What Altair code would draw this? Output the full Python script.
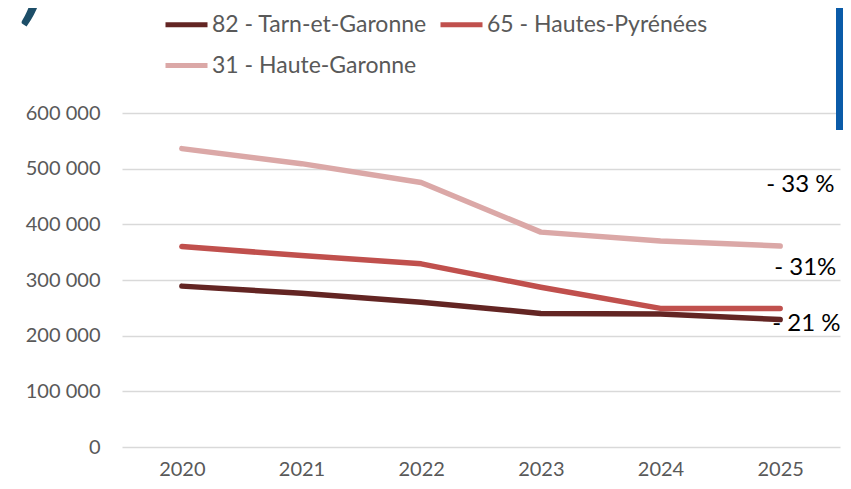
import altair as alt
import pandas as pd

years = ["2020", "2021", "2022", "2023", "2024", "2025"]
series_names = ["82 - Tarn-et-Garonne", "65 - Hautes-Pyrénées", "31 - Haute-Garonne"]
tarn_et_garonne = [289000, 276000, 260000, 240000, 239000, 229000]
hautes_pyrenees = [360000, 344000, 329000, 287000, 249000, 249000]
haute_garonne = [536000, 509000, 475000, 386000, 370000, 361000]
pct_labels = ["- 21 %", "- 31%", "- 33 %"]
colors = ["#632523", "#C0504D", "#DBA8A7"]
y_ticks = [0, 100000, 200000, 300000, 400000, 500000, 600000]

# legend grid fills column-major: order so that row 1 = 82, 65 and row 2 = 31
legend_order = [series_names[0], series_names[2], series_names[1]]
legend_colors = [colors[0], colors[2], colors[1]]

rows = []
for name, vals in zip(series_names, [tarn_et_garonne, hautes_pyrenees, haute_garonne]):
    for yr, v in zip(years, vals):
        rows.append({"year": yr, "series": name, "value": v})
df = pd.DataFrame(rows)

lab_rows = []
for name, vals, lab in zip(series_names, [tarn_et_garonne, hautes_pyrenees, haute_garonne], pct_labels):
    lab_rows.append({"year": years[-1], "series": name, "value": vals[-1], "label": lab})
df_lab = pd.DataFrame(lab_rows)

FONT = "Lato"

x_enc = alt.X("year:N", sort=years, scale=alt.Scale(type="point", padding=0.5),
              axis=alt.Axis(title=None, labelAngle=0, domain=False, ticks=False, grid=False,
                            labelPadding=12, labelFontSize=20, labelColor="#595959", labelFont=FONT))
y_enc = alt.Y("value:Q", scale=alt.Scale(domain=[0, 600000], nice=False),
              axis=alt.Axis(title=None, values=y_ticks, domain=False, ticks=False, grid=True,
                            gridColor="#D9D9D9", gridWidth=1.5, labelPadding=22, labelFontSize=20,
                            labelColor="#595959", labelFont=FONT,
                            labelExpr="replace(format(datum.value, ','), ',', ' ')"))

lines = alt.Chart(df).mark_line(strokeWidth=5.5, strokeCap="round", strokeJoin="round").encode(
    x=x_enc,
    y=y_enc,
    color=alt.Color("series:N", sort=legend_order,
                    scale=alt.Scale(domain=legend_order, range=legend_colors),
                    legend=alt.Legend(title=None, orient="none", legendX=41, legendY=-112,
                                      columns=2, symbolType="stroke", symbolSize=1764,
                                      symbolStrokeWidth=5, labelFontSize=23, labelColor="#595959",
                                      labelFont=FONT, columnPadding=3, rowPadding=5,
                                      labelOffset=2, labelLimit=0)),
    order=alt.Order("series:N"),
)

text_layers = []
offsets = {series_names[0]: (-8, 11), series_names[1]: (-6, -33), series_names[2]: (-14, -54)}
for name in series_names:
    dx, dy = offsets[name]
    t = alt.Chart(df_lab).transform_filter(alt.datum.series == name).mark_text(
        align="left", baseline="alphabetic", dx=dx, dy=dy, fontSize=24, font=FONT, color="#000000"
    ).encode(x=alt.X("year:N", sort=years), y="value:Q", text="label:N")
    text_layers.append(t)

one = pd.DataFrame({"a": [0]})
blue_bar = alt.Chart(one).mark_rect(color="#0A5BA8").encode(
    x=alt.value(714), x2=alt.value(722), y=alt.value(-106), y2=alt.value(17))
glyph = alt.Chart(one).mark_text(text=")", fontSize=80, fontWeight="bold", fontStyle="italic",
                                 font=FONT, color="#1D4E68", align="center", baseline="bottom").encode(
    x=alt.value(-88), y=alt.value(-82))

chart = alt.layer(lines, *text_layers, blue_bar, glyph).properties(
    width=718, height=334,
    padding={"left": 114, "top": 105, "right": 3, "bottom": 34},
    autosize=alt.AutoSizeParams(type="none"),
).configure_view(stroke=None)

chart.save("out.html", embed_options={"renderer": "svg", "actions": False})
